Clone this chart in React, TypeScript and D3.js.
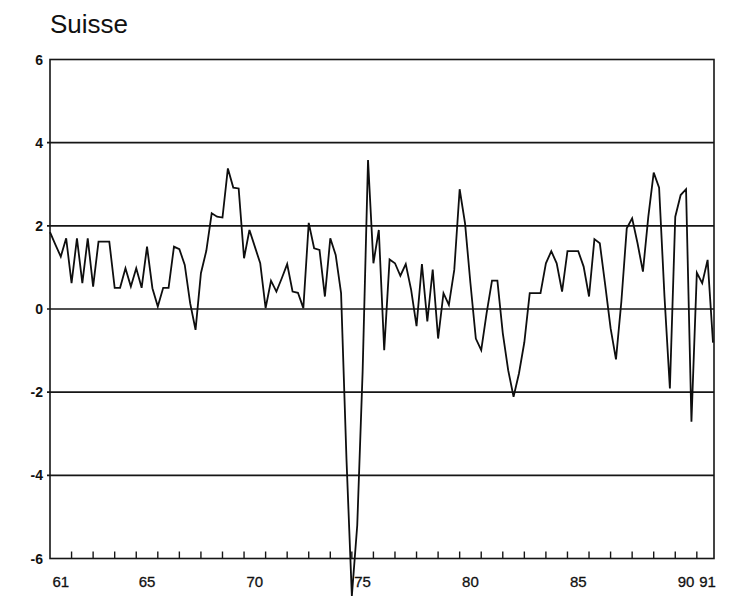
import React from "react";
import * as d3 from "d3";

const title = "Suisse";
const startYear = 1961;
// quarterly values, 1961Q1 .. 1991Q4
const values: number[] = [
  1.85, 1.55, 1.26, 1.70, 0.62, 1.70, 0.62, 1.70, 0.54, 1.62,
  1.62, 1.62, 0.51, 0.51, 0.98, 0.54, 0.98, 0.51, 1.50, 0.50,
  0.06, 0.51, 0.51, 1.50, 1.44, 1.06, 0.14, -0.50, 0.86, 1.40,
  2.30, 2.22, 2.20, 3.38, 2.92, 2.90, 1.22, 1.90, 1.50, 1.10,
  0.02, 0.68, 0.42, 0.74, 1.08, 0.42, 0.39, 0.02, 2.07, 1.46,
  1.42, 0.30, 1.70, 1.30, 0.38, -3.6, -6.9, -5.2, -1.5, 3.58,
  1.10, 1.90, -0.99, 1.19, 1.10, 0.80, 1.08, 0.46, -0.41, 1.08,
  -0.30, 0.95, -0.71, 0.38, 0.10, 0.94, 2.88, 2.06, 0.62, -0.71,
  -0.99, -0.10, 0.68, 0.68, -0.58, -1.47, -2.11, -1.55, -0.80, 0.38,
  0.38, 0.38, 1.10, 1.39, 1.10, 0.42, 1.39, 1.39, 1.39, 1.02,
  0.30, 1.68, 1.58, 0.58, -0.46, -1.21, 0.18, 1.94, 2.18, 1.58,
  0.90, 2.22, 3.28, 2.92, 0.30, -1.91, 2.22, 2.74, 2.88, -2.71,
  0.87, 0.62, 1.18, -0.81,
];
const yTicks = [6, 4, 2, 0, -2, -4, -6];
const gridValues = [4, 2, 0, -2, -4];
const xLabelYears = [1961, 1965, 1970, 1975, 1980, 1985, 1990, 1991];
const xLabels = ["61", "65", "70", "75", "80", "85", "90", "91"];
const tickYears = d3.range(1962, 1992);

export default function App() {
  const W = 733;
  const H = 597;
  const left = 50;
  const right = 714;
  const top = 59.5;
  const bottom = 558.5;
  const x = d3.scaleLinear().domain([1961, 1991.75]).range([left, 713]);
  const y = d3.scaleLinear().domain([-6, 6]).range([bottom, top]);
  const line = d3
    .line<number>()
    .x((_, i) => x(startYear + i / 4))
    .y((d) => y(d));
  const ink = "#161616";
  return (
    <svg
      width={W}
      height={H}
      style={{ position: "absolute", left: 0, top: 0, background: "#fff" }}
    >
      <text
        x={50}
        y={33}
        fontFamily="'Liberation Sans', Arial, sans-serif"
        fontSize={26}
        fill="#111"
      >
        {title}
      </text>
      {gridValues.map((g) => (
        <line
          key={g}
          x1={left - 3}
          x2={right}
          y1={y(g)}
          y2={y(g)}
          stroke={ink}
          strokeWidth={1.6}
        />
      ))}
      <rect
        x={left}
        y={top}
        width={right - left}
        height={bottom - top}
        fill="none"
        stroke={ink}
        strokeWidth={1.6}
      />
      {tickYears.map((t) => (
        <line
          key={t}
          x1={x(t)}
          x2={x(t)}
          y1={bottom}
          y2={bottom - 7}
          stroke={ink}
          strokeWidth={1.4}
        />
      ))}
      {yTicks.map((v) => (
        <text
          key={v}
          x={43}
          y={y(v)}
          dy="0.36em"
          textAnchor="end"
          fontFamily="'Liberation Sans', Arial, sans-serif"
          fontWeight="bold"
          fontSize={14}
          fill="#111"
        >
          {v}
        </text>
      ))}
      {xLabelYears.map((t, i) => (
        <text
          key={t}
          x={x(t + 0.5)}
          y={587}
          textAnchor="middle"
          fontFamily="'Liberation Sans', Arial, sans-serif"
          fontSize={15}
          stroke="#111"
          strokeWidth={0.3}
          fill="#111"
        >
          {xLabels[i]}
        </text>
      ))}
      <path
        d={line(values) || ""}
        fill="none"
        stroke="#0e0e0e"
        strokeWidth={1.8}
        strokeLinejoin="miter"
      />
    </svg>
  );
}
